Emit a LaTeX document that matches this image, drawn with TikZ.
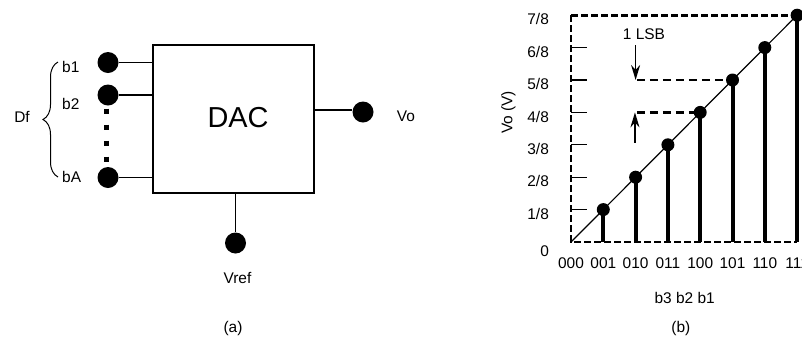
\documentclass[tikz,border=0pt]{standalone}
\usepackage{fontspec}
\setmainfont{Liberation Sans}
\usetikzlibrary{decorations.pathreplacing,arrows.meta}

\begin{document}
\begin{tikzpicture}[x=1bp,y=-1bp,
  txt/.style={font=\fontsize{15.5}{18}\selectfont,inner sep=0},
  pin/.style={circle,fill=black,inner sep=0,minimum size=21bp},
  dot/.style={circle,fill=black,inner sep=0,minimum size=13bp},
  wire/.style={line width=1.3bp},
  bar/.style={line width=4bp},
  axisline/.style={line width=2.6bp,dash pattern=on 7bp off 3bp},
  lsbline/.style={line width=2.2bp,dash pattern=on 8bp off 5bp},
  lsbarrow/.style={line width=1.3bp,-{Stealth[length=15bp,width=9bp]}}]
\useasboundingbox (0,0) rectangle (802,339);

% ---------- (a) DAC block ----------
\node[draw,line width=1.3bp,minimum width=161bp,minimum height=148bp] (dac) at (233.5,119) {};
\node[font=\fontsize{29}{33}\selectfont,inner sep=0] (daclbl) at (238,118) {DAC};

\node[pin] (p1) at (108,62.5) {};
\node[pin] (p2) at (108,95) {};
\node[pin] (pA) at (108,177.5) {};
\draw[wire] (p1) -- (p1 -| dac.west);
\draw[wire] (p2) -- (p2 -| dac.west);
\draw[wire] (pA) -- (pA -| dac.west);
\draw[line width=5bp,dash pattern=on 5bp off 11bp] (p2.south) ++(-2,3) coordinate (gs) -- (gs |- pA.north);

\node[txt,anchor=west] (lb1) at (62,67) {b1};
\node[txt,anchor=west] (lb2) at (62,104) {b2};
\node[txt,anchor=west] (lbA) at (62,177) {bA};
\draw[line width=1bp,decorate,decoration={brace,amplitude=15bp}] (58,177) -- (58,62);
\node[txt] (df) at (22,117) {Df};

\node[pin] (vo) at (363,112) {};
\draw[wire] (dac.east |- 0,110) -- (vo.west |- 0,110);
\node[txt] (lvo) at (406,116) {Vo};

\node[pin] (vref) at (235.5,243) {};
\draw[wire] (vref |- dac.south) -- (vref);
\node[txt] (lvref) at (237.5,278) {Vref};

\node[txt] (capa) at (233,328) {(a)};

% ---------- (b) transfer characteristic ----------
\begin{scope}[shift={(571,242)},x=32.3bp,y=32.4bp]
  \coordinate (O) at (0,0);
  \coordinate (T) at (0,7);
  \coordinate (R) at (7,0);
  \coordinate (TR) at (7,7);
  \foreach \k in {1,...,7} {
    \node[dot] (d\k) at (\k,\k) {};
    \coordinate (x\k) at (\k,0);
  }
  \draw[line width=1.2bp] (O) -- (TR);
  \foreach \k in {1,...,7}
    \draw[bar] (x\k) -- (d\k.center);
  \draw[axisline] (T) -- (O) -- (R);
  \draw[axisline] (T) -- (TR);
  \foreach \k in {1,...,6}
    \draw[line width=1.3bp] (0,\k) -- (0.5,\k);
  \foreach \k in {1,...,7}
    \node[txt,anchor=east] at (-0.68,\k-0.13) {\k/8};
  \node[txt,anchor=east] at (-0.68,-0.28) {0};
  \foreach \k [count=\i from 0] in {000,001,010,011,100,101,110,111}
    \node[txt] at (\i,-0.65) {\k};
  \node[txt,rotate=90] (ylab) at (-1.94,4.0) {Vo (V)};
  \node[txt] (xlab) at (3.52,-1.73) {b3 b2 b1};
  \node[txt] (capb) at (3.4,-2.66) {(b)};

  % one LSB step
  \coordinate (l5) at (2.04,5);
  \coordinate (l4) at (2.04,4);
  \draw[lsbline] (l5) -- (d5.center);
  \draw[lsbline] (l4) -- (d4.center);
  \coordinate (a5) at (2.0,6.08);
  \coordinate (a4) at (1.98,3.06);
  \draw[lsbarrow] (a5) -- (a5 |- l5);
  \draw[lsbarrow] (a4) -- (a4 |- l4);
  \node[txt] (lsb) at (2.26,6.42) {1 LSB};
\end{scope}
\end{tikzpicture}
\end{document}
